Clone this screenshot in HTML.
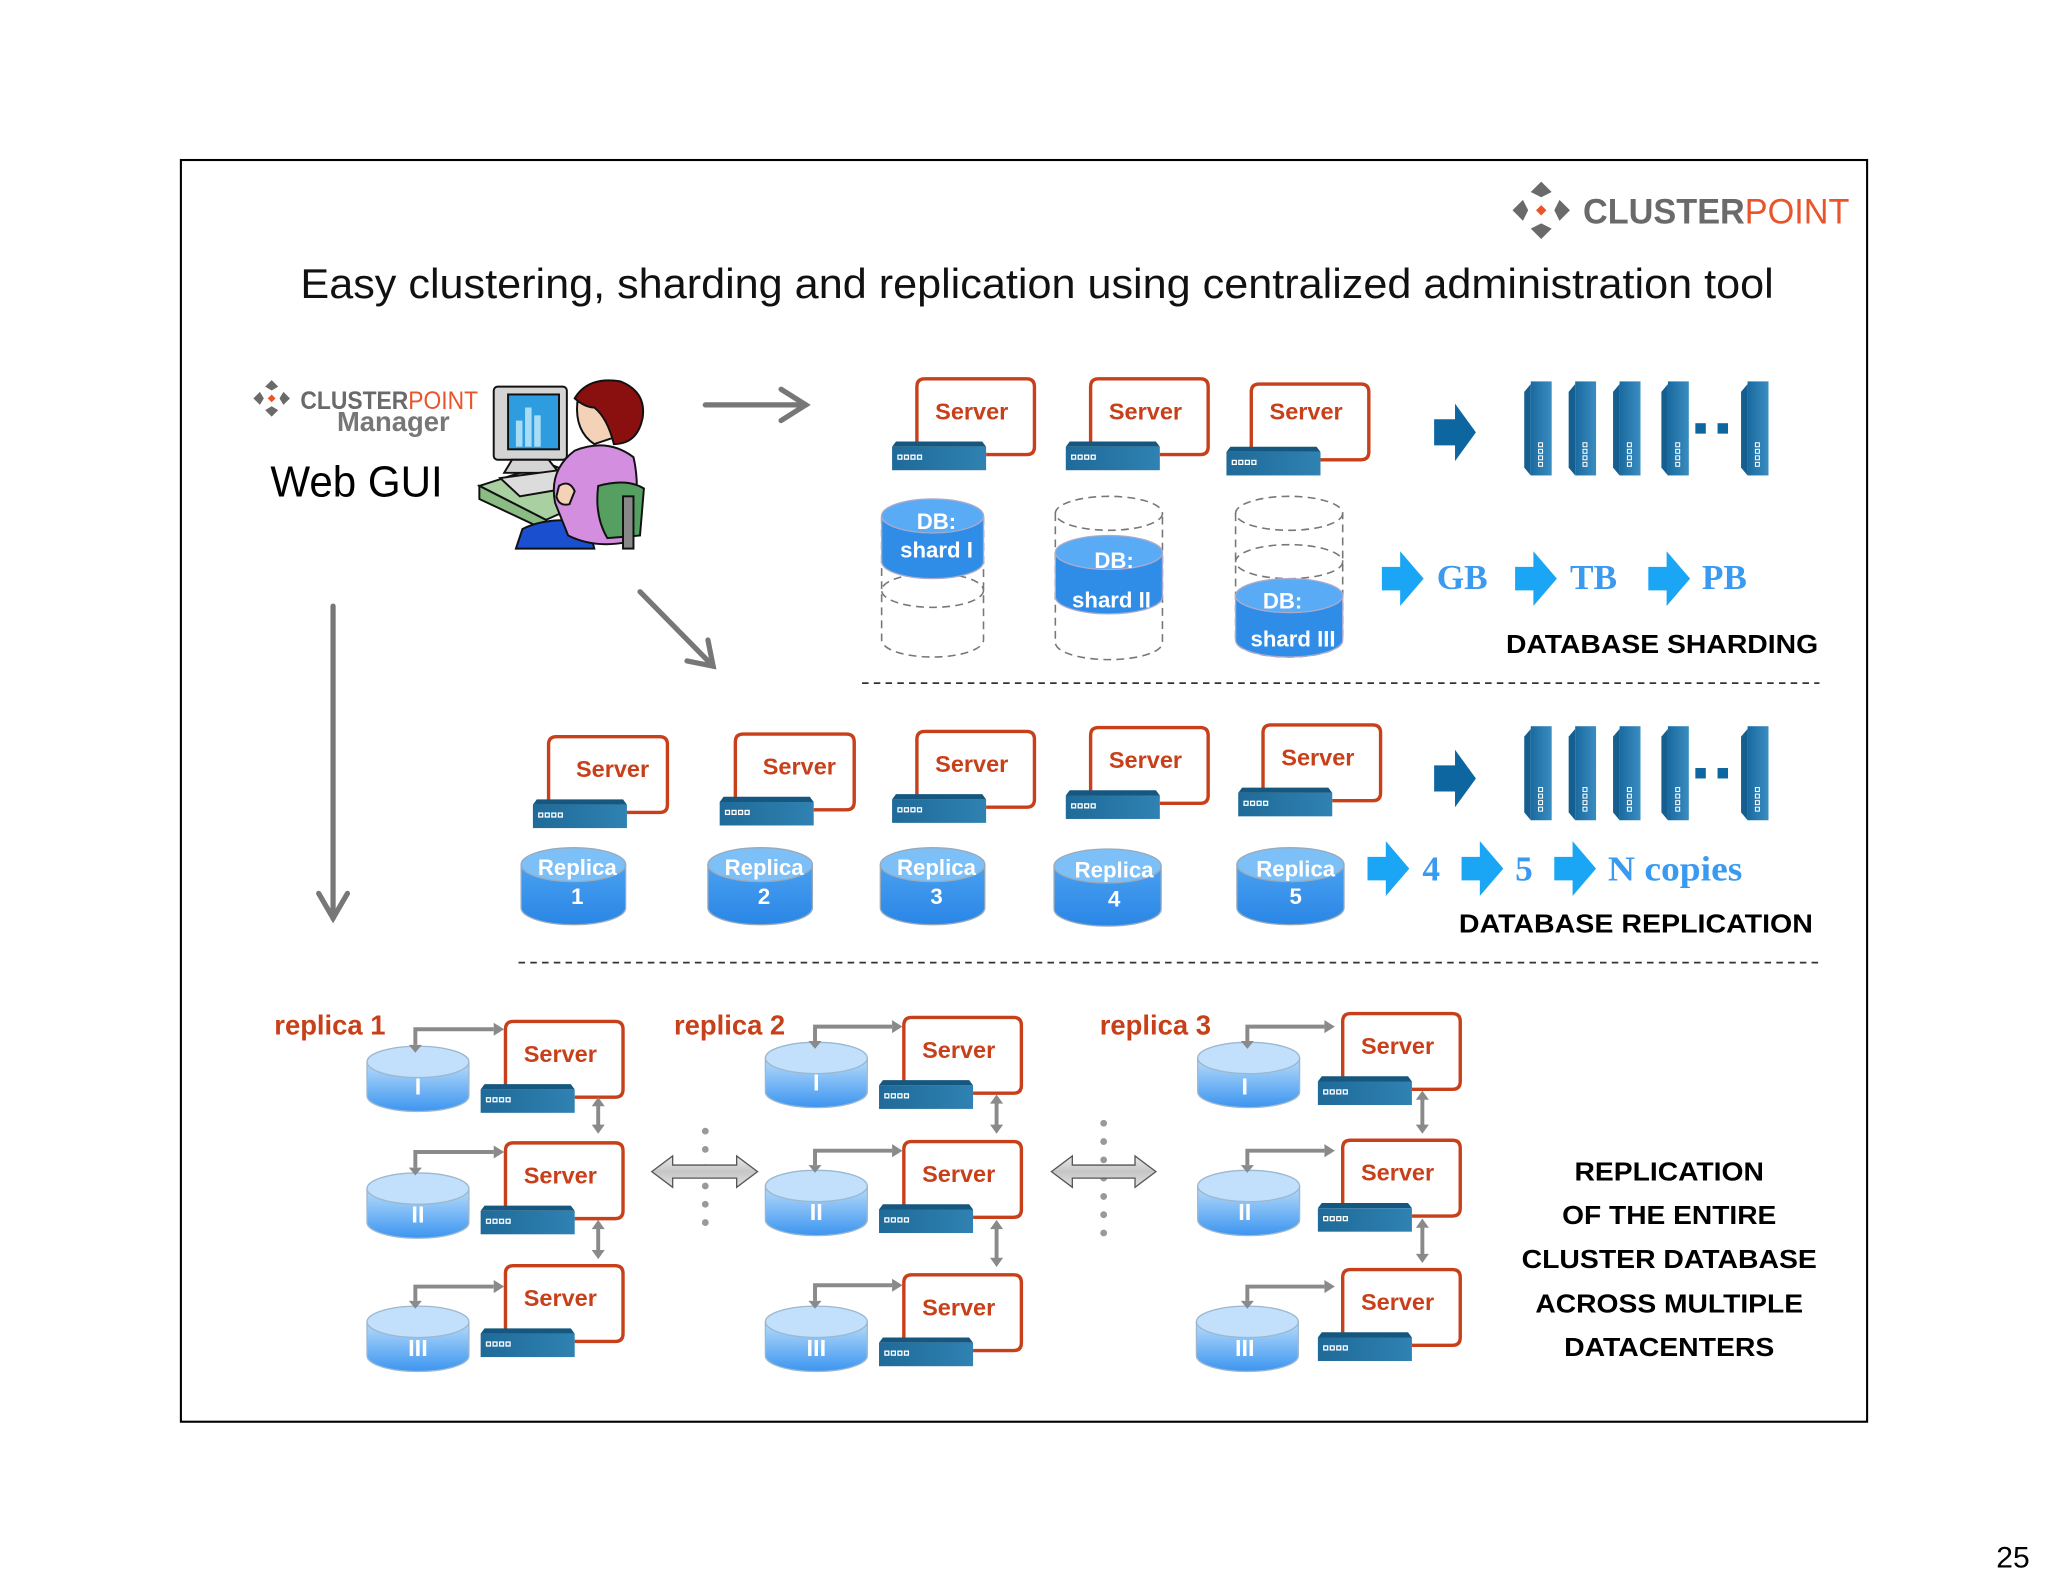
<!DOCTYPE html>
<html><head><meta charset="utf-8"><style>
html,body{margin:0;padding:0;background:#fff}
svg{display:block}
text{font-family:"Liberation Sans",Arial,sans-serif}
</style></head><body>
<svg width="2048" height="1582" viewBox="0 0 1568 1211.2" xmlns="http://www.w3.org/2000/svg">
<defs>
<linearGradient id="unitg" x1="0" y1="0" x2="1" y2="0"><stop offset="0" stop-color="#1f6a98"/><stop offset="1" stop-color="#2f82b2"/></linearGradient>
<linearGradient id="rackg" x1="0" y1="0" x2="1" y2="0"><stop offset="0" stop-color="#1a6aa0"/><stop offset="1" stop-color="#3a8dc0"/></linearGradient>
<linearGradient id="lcyl" x1="0" y1="0" x2="0" y2="1"><stop offset="0" stop-color="#b8dcfa"/><stop offset="1" stop-color="#3c95f0"/></linearGradient>
<linearGradient id="rcyl" x1="0" y1="0" x2="0" y2="1"><stop offset="0" stop-color="#4aa0f0"/><stop offset="1" stop-color="#2a86e6"/></linearGradient>
<linearGradient id="dbl" x1="0" y1="0" x2="0" y2="1"><stop offset="0" stop-color="#e8e8e8"/><stop offset=".5" stop-color="#c6c6c6"/><stop offset="1" stop-color="#e0e0e0"/></linearGradient>
<g id="srv">
<path d="M -42 27 L -42 -18 Q -42 -24 -36 -24 L 42 -24 Q 48 -24 48 -18 L 48 28 Q 48 34 42 34 L 11 34" fill="none" stroke="#c8401a" stroke-width="2.6"/>
<polygon points="-58,24 8,24 11,28 -61,28" fill="#16577f"/>
<rect x="-61" y="28" width="72" height="18" fill="url(#unitg)"/>
<g fill="none" stroke="#fff" stroke-width="1"><rect x="-56.5" y="34.5" width="3" height="3"/><rect x="-51.5" y="34.5" width="3" height="3"/><rect x="-46.5" y="34.5" width="3" height="3"/><rect x="-41.5" y="34.5" width="3" height="3"/></g>
</g>
<g id="srv2">
<path d="M -49 27 L -49 -18 Q -49 -24 -43 -24 L 36 -24 Q 42 -24 42 -18 L 42 28 Q 42 34 36 34 L 11 34" fill="none" stroke="#c8401a" stroke-width="2.6"/>
<polygon points="-58,24 8,24 11,28 -61,28" fill="#16577f"/>
<rect x="-61" y="28" width="72" height="18" fill="url(#unitg)"/>
<g fill="none" stroke="#fff" stroke-width="1"><rect x="-56.5" y="34.5" width="3" height="3"/><rect x="-51.5" y="34.5" width="3" height="3"/><rect x="-46.5" y="34.5" width="3" height="3"/><rect x="-41.5" y="34.5" width="3" height="3"/></g>
</g>
<g id="rack">
<polygon points="0,8 5,2 5,72 0,66" fill="#145f90"/>
<rect x="5" y="0" width="16" height="72" fill="url(#rackg)"/>
<g fill="none" stroke="#fff" stroke-width="0.8"><rect x="11" y="47" width="3" height="3"/><rect x="11" y="52" width="3" height="3"/><rect x="11" y="57" width="3" height="3"/><rect x="11" y="62" width="3" height="3"/></g>
</g>
<polygon id="barr" points="0,-9 14,-9 14,-21 32,0 14,21 14,9 0,9" fill="#1aa6f5"/>
<polygon id="darr" points="0,-10 16,-10 16,-22 32,0 16,22 16,10 0,10" fill="#0d66a0"/>
<g id="lc">
<path d="M -39 0 L -39 26 A 39 12 0 0 0 39 26 L 39 0 Z" fill="url(#lcyl)" stroke="#9bb8d0" stroke-width="1"/>
<ellipse cx="0" cy="0" rx="39" ry="12" fill="#c2e0fb" stroke="#9bb8d0" stroke-width="1"/>
</g>
</defs>

<rect x="138.5" y="122.5" width="1291" height="966" fill="none" stroke="#000" stroke-width="1.6"/>

<g transform="translate(1180,161)">
<polygon points="0,-22 8,-14 0,-10 -8,-14" fill="#6a6a6a"/>
<polygon points="0,22 8,14 0,10 -8,14" fill="#6a6a6a"/>
<polygon points="-22,0 -14,-8 -10,0 -14,8" fill="#6a6a6a"/>
<polygon points="22,0 14,-8 10,0 14,8" fill="#6a6a6a"/>
<polygon points="0,-4 4,0 0,4 -4,0" fill="#e8552a"/>
</g>
<text x="1212" y="171" font-size="27" font-weight="bold" fill="#6a6a6a" textLength="204" lengthAdjust="spacingAndGlyphs">CLUSTER<tspan fill="#e8552a" font-weight="normal">POINT</tspan></text>

<text x="230" y="228" font-size="32" fill="#111" textLength="1128" lengthAdjust="spacingAndGlyphs">Easy clustering, sharding and replication using centralized administration tool</text>

<g transform="translate(208,305)">
<polygon points="0,-14 5,-9 0,-6 -5,-9" fill="#6a6a6a"/>
<polygon points="0,14 5,9 0,6 -5,9" fill="#6a6a6a"/>
<polygon points="-14,0 -9,-5 -6,0 -9,5" fill="#6a6a6a"/>
<polygon points="14,0 9,-5 6,0 9,5" fill="#6a6a6a"/>
<polygon points="0,-3 3,0 0,3 -3,0" fill="#e8552a"/>
</g>
<text x="230" y="313" font-size="19" font-weight="bold" fill="#6a6a6a" textLength="136" lengthAdjust="spacingAndGlyphs">CLUSTER<tspan fill="#e8552a" font-weight="normal">POINT</tspan></text>
<text x="258" y="330" font-size="21" font-weight="bold" fill="#777">Manager</text>
<text x="207" y="380" font-size="33" fill="#000" textLength="132" lengthAdjust="spacingAndGlyphs">Web GUI</text>

<g stroke="#111" stroke-width="1.5">
<polygon points="367,372 420,355 470,375 418,398" fill="#a8d0a0"/>
<polygon points="367,372 418,398 418,406 367,382" fill="#8abc84"/>
<rect x="378" y="296" width="56" height="56" rx="3" fill="#d4d4d4"/>
<rect x="389" y="302" width="39" height="42" fill="#2e9de0"/>
<rect x="395" y="322" width="5" height="20" fill="#a8dcf5" stroke="none"/>
<rect x="402" y="312" width="5" height="30" fill="#a8dcf5" stroke="none"/>
<rect x="409" y="318" width="5" height="24" fill="#a8dcf5" stroke="none"/>
<polygon points="392,352 420,352 428,362 386,362" fill="#d4d4d4"/>
<polygon points="383,366 428,360 445,372 398,380" fill="#dcdcdc"/>
<path d="M 450 400 Q 420 395 400 405 L 395 420 L 455 420 Z" fill="#1a4fd0"/>
<path d="M 440 345 Q 420 360 425 385 L 435 410 Q 455 420 480 415 Q 492 380 485 350 Q 465 335 440 345 Z" fill="#d48ee0"/>
<path d="M 442 308 Q 440 330 455 340 L 470 335 Q 470 315 460 305 Z" fill="#f3d2b8"/>
<path d="M 440 305 Q 450 288 475 292 Q 495 300 492 320 Q 488 340 470 340 Q 465 320 455 312 Q 448 312 440 305 Z" fill="#8a1010"/>
<path d="M 458 372 Q 480 366 493 374 L 490 410 L 465 412 Q 455 395 458 372 Z" fill="#55a060"/>
<rect x="477" y="380" width="8" height="40" fill="#888"/>
<path d="M 428 372 q 8 -5 12 4 l -4 10 q -8 2 -10 -6 z" fill="#f3d2b8"/>
</g>

<g stroke="#777" stroke-width="4" fill="none" stroke-linecap="round">
<line x1="540" y1="310" x2="617" y2="310"/><polyline points="598,298 617,310 598,322"/>
<line x1="490" y1="453" x2="546" y2="510"/><polyline points="526,506 546,510 542,490"/>
<line x1="255" y1="464" x2="255" y2="703"/><polyline points="244,684 255,703 266,684"/>
</g>

<use href="#srv" x="744" y="314"/><text x="744" y="321" font-size="18" font-weight="bold" fill="#c8401a" text-anchor="middle">Server</text>
<use href="#srv" x="877" y="314"/><text x="877" y="321" font-size="18" font-weight="bold" fill="#c8401a" text-anchor="middle">Server</text>
<use href="#srv" x="1000" y="318"/><text x="1000" y="321" font-size="18" font-weight="bold" fill="#c8401a" text-anchor="middle">Server</text>

<g fill="none" stroke="#777" stroke-width="1.2" stroke-dasharray="6,4">
<path d="M 675 395 L 675 490 A 39 13 0 0 0 753 490 L 753 395"/>
<ellipse cx="714" cy="452" rx="39" ry="13"/>
<path d="M 808 393 L 808 492 A 41 13 0 0 0 890 492 L 890 393"/>
<ellipse cx="849" cy="393" rx="41" ry="13"/>
<path d="M 946 393 L 946 490 A 41 13 0 0 0 1028 490 L 1028 393"/>
<ellipse cx="987" cy="393" rx="41" ry="13"/>
<ellipse cx="987" cy="430" rx="41" ry="13"/>
</g>
<g stroke="#aac" stroke-width="1">
<path d="M 675 395 L 675 430 A 39 13 0 0 0 753 430 L 753 395 Z" fill="#2f8de8"/>
<ellipse cx="714" cy="395" rx="39" ry="13" fill="#5aabf5"/>
<path d="M 808 423 L 808 457 A 41 13 0 0 0 890 457 L 890 423 Z" fill="#2f8de8"/>
<ellipse cx="849" cy="423" rx="41" ry="13" fill="#5aabf5"/>
<path d="M 946 456 L 946 490 A 41 13 0 0 0 1028 490 L 1028 456 Z" fill="#2f8de8"/>
<ellipse cx="987" cy="456" rx="41" ry="13" fill="#5aabf5"/>
</g>
<g font-size="17" font-weight="bold" fill="#fff" text-anchor="middle">
<text x="717" y="405">DB:</text><text x="717" y="427">shard I</text>
<text x="853" y="435">DB:</text><text x="851" y="465">shard II</text>
<text x="982" y="466">DB:</text><text x="990" y="495">shard III</text>
</g>

<use href="#darr" x="1098" y="331"/>
<use href="#rack" x="1167" y="292"/><use href="#rack" x="1201" y="292"/><use href="#rack" x="1235" y="292"/><use href="#rack" x="1272" y="292"/><use href="#rack" x="1333" y="292"/>
<rect x="1298" y="324" width="8" height="8" fill="#0d66a0"/><rect x="1315" y="324" width="8" height="8" fill="#0d66a0"/>

<use href="#barr" x="1058" y="443"/><use href="#barr" x="1160" y="443"/><use href="#barr" x="1262" y="443"/>
<g font-size="27" font-weight="bold" fill="#3a9af0">
<text x="1100" y="451" style="font-family:'Liberation Serif',serif">GB</text>
<text x="1202" y="451" style="font-family:'Liberation Serif',serif">TB</text>
<text x="1303" y="451" style="font-family:'Liberation Serif',serif">PB</text>
</g>
<text x="1153" y="500" font-size="20" font-weight="bold" fill="#000" textLength="239" lengthAdjust="spacingAndGlyphs">DATABASE SHARDING</text>

<line x1="660" y1="523" x2="1393" y2="523" stroke="#333" stroke-width="1.3" stroke-dasharray="5,4"/>

<use href="#srv2" x="469" y="588"/><text x="469" y="595" font-size="18" font-weight="bold" fill="#c8401a" text-anchor="middle">Server</text>
<use href="#srv2" x="612" y="586"/><text x="612" y="593" font-size="18" font-weight="bold" fill="#c8401a" text-anchor="middle">Server</text>
<use href="#srv" x="744" y="584"/><text x="744" y="591" font-size="18" font-weight="bold" fill="#c8401a" text-anchor="middle">Server</text>
<use href="#srv" x="877" y="581"/><text x="877" y="588" font-size="18" font-weight="bold" fill="#c8401a" text-anchor="middle">Server</text>
<use href="#srv" x="1009" y="579"/><text x="1009" y="586" font-size="18" font-weight="bold" fill="#c8401a" text-anchor="middle">Server</text>

<g stroke="#9ab" stroke-width="1">
<path d="M 399 662 L 399 695 A 40 13 0 0 0 479 695 L 479 662 Z" fill="url(#rcyl)"/><ellipse cx="439" cy="662" rx="40" ry="13" fill="#7dc0f7"/>
<path d="M 542 662 L 542 695 A 40 13 0 0 0 622 695 L 622 662 Z" fill="url(#rcyl)"/><ellipse cx="582" cy="662" rx="40" ry="13" fill="#7dc0f7"/>
<path d="M 674 662 L 674 695 A 40 13 0 0 0 754 695 L 754 662 Z" fill="url(#rcyl)"/><ellipse cx="714" cy="662" rx="40" ry="13" fill="#7dc0f7"/>
<path d="M 807 663 L 807 696 A 41 13 0 0 0 889 696 L 889 663 Z" fill="url(#rcyl)"/><ellipse cx="848" cy="663" rx="41" ry="13" fill="#7dc0f7"/>
<path d="M 947 662 L 947 695 A 41 13 0 0 0 1029 695 L 1029 662 Z" fill="url(#rcyl)"/><ellipse cx="988" cy="662" rx="41" ry="13" fill="#7dc0f7"/>
</g>
<g font-size="17" font-weight="bold" fill="#fff" text-anchor="middle">
<text x="442" y="670">Replica</text><text x="442" y="692">1</text>
<text x="585" y="670">Replica</text><text x="585" y="692">2</text>
<text x="717" y="670">Replica</text><text x="717" y="692">3</text>
<text x="853" y="672">Replica</text><text x="853" y="694">4</text>
<text x="992" y="671">Replica</text><text x="992" y="692">5</text>
</g>

<use href="#darr" x="1098" y="596"/>
<use href="#rack" x="1167" y="556"/><use href="#rack" x="1201" y="556"/><use href="#rack" x="1235" y="556"/><use href="#rack" x="1272" y="556"/><use href="#rack" x="1333" y="556"/>
<rect x="1298" y="588" width="8" height="8" fill="#0d66a0"/><rect x="1315" y="588" width="8" height="8" fill="#0d66a0"/>

<use href="#barr" x="1047" y="665"/><use href="#barr" x="1119" y="665"/><use href="#barr" x="1190" y="665"/>
<g font-size="27" font-weight="bold" fill="#3a9af0">
<text x="1089" y="674" style="font-family:'Liberation Serif',serif">4</text>
<text x="1160" y="674" style="font-family:'Liberation Serif',serif">5</text>
<text x="1231" y="674" style="font-family:'Liberation Serif',serif" textLength="103" lengthAdjust="spacingAndGlyphs">N copies</text>
</g>
<text x="1117" y="714" font-size="20" font-weight="bold" fill="#000" textLength="271" lengthAdjust="spacingAndGlyphs">DATABASE REPLICATION</text>

<line x1="397" y1="737" x2="1393" y2="737" stroke="#333" stroke-width="1.3" stroke-dasharray="5,4"/>

<g font-size="21" font-weight="bold" fill="#c8401a">
<text x="210" y="792">replica 1</text>
<text x="516" y="792">replica 2</text>
<text x="842" y="792">replica 3</text>
</g>

<g>
<use href="#lc" x="320" y="813"/><use href="#lc" x="320" y="910"/><use href="#lc" x="320" y="1012"/>
<use href="#srv" x="429" y="806"/><use href="#srv" x="429" y="899"/><use href="#srv" x="429" y="993"/>
<use href="#lc" x="625" y="810"/><use href="#lc" x="625" y="908"/><use href="#lc" x="625" y="1012"/>
<use href="#srv" x="734" y="803"/><use href="#srv" x="734" y="898"/><use href="#srv" x="734" y="1000"/>
<use href="#lc" x="956" y="810"/><use href="#lc" x="956" y="908"/><use href="#lc" x="955" y="1012"/>
<use href="#srv" x="1070" y="800"/><use href="#srv" x="1070" y="897"/><use href="#srv" x="1070" y="996"/>
</g>
<g font-size="18" font-weight="bold" fill="#c8401a" text-anchor="middle">
<text x="429" y="813">Server</text><text x="429" y="906">Server</text><text x="429" y="1000">Server</text>
<text x="734" y="810">Server</text><text x="734" y="905">Server</text><text x="734" y="1007">Server</text>
<text x="1070" y="807">Server</text><text x="1070" y="904">Server</text><text x="1070" y="1003">Server</text>
</g>
<g font-size="18" font-weight="bold" fill="#fff" text-anchor="middle">
<text x="320" y="838">I</text><text x="320" y="936">II</text><text x="320" y="1038">III</text>
<text x="625" y="835">I</text><text x="625" y="934">II</text><text x="625" y="1038">III</text>
<text x="953" y="838">I</text><text x="953" y="934">II</text><text x="953" y="1038">III</text>
</g>

<g fill="none" stroke="#8a8a8a" stroke-width="3">
<path d="M 318 800 L 318 788 L 378 788"/><path d="M 318 894 L 318 882 L 378 882"/><path d="M 318 996 L 318 985 L 378 985"/>
<path d="M 624 797 L 624 786 L 683 786"/><path d="M 624 892 L 624 881 L 683 881"/><path d="M 624 996 L 624 984 L 683 984"/>
<path d="M 955 797 L 955 786 L 1014 786"/><path d="M 955 892 L 955 881 L 1014 881"/><path d="M 955 996 L 955 985 L 1014 985"/>
<line x1="458" y1="846" x2="458" y2="862"/><line x1="458" y1="940" x2="458" y2="958"/>
<line x1="763" y1="844" x2="763" y2="862"/><line x1="763" y1="940" x2="763" y2="964"/>
<line x1="1089" y1="841" x2="1089" y2="862"/><line x1="1089" y1="939" x2="1089" y2="961"/>
</g>
<g fill="#8a8a8a">
<polygon points="378,783 386,788 378,793"/><polygon points="378,877 386,882 378,887"/><polygon points="378,980 386,985 378,990"/>
<polygon points="313,800 318,806 323,800"/><polygon points="313,894 318,900 323,894"/><polygon points="313,996 318,1002 323,996"/>
<polygon points="683,781 691,786 683,791"/><polygon points="683,876 691,881 683,886"/><polygon points="683,979 691,984 683,989"/>
<polygon points="619,797 624,803 629,797"/><polygon points="619,892 624,898 629,892"/><polygon points="619,996 624,1002 629,996"/>
<polygon points="1014,781 1022,786 1014,791"/><polygon points="1014,876 1022,881 1014,886"/><polygon points="1014,980 1022,985 1014,990"/>
<polygon points="950,797 955,803 960,797"/><polygon points="950,892 955,898 960,892"/><polygon points="950,996 955,1002 960,996"/>
<polygon points="453,847 458,840 463,847"/><polygon points="453,861 458,868 463,861"/>
<polygon points="453,941 458,934 463,941"/><polygon points="453,957 458,964 463,957"/>
<polygon points="758,845 763,838 768,845"/><polygon points="758,861 763,868 768,861"/>
<polygon points="758,941 763,934 768,941"/><polygon points="758,963 763,970 768,963"/>
<polygon points="1084,842 1089,835 1094,842"/><polygon points="1084,861 1089,868 1094,861"/>
<polygon points="1084,940 1089,933 1094,940"/><polygon points="1084,960 1089,967 1094,960"/>
</g>

<g fill="#999">
<circle cx="540" cy="866" r="2.6"/><circle cx="540" cy="880" r="2.6"/><circle cx="540" cy="894" r="2.6"/><circle cx="540" cy="908" r="2.6"/><circle cx="540" cy="922" r="2.6"/><circle cx="540" cy="936" r="2.6"/>
<circle cx="845" cy="860" r="2.6"/><circle cx="845" cy="874" r="2.6"/><circle cx="845" cy="888" r="2.6"/><circle cx="845" cy="902" r="2.6"/><circle cx="845" cy="916" r="2.6"/><circle cx="845" cy="930" r="2.6"/><circle cx="845" cy="944" r="2.6"/>
</g>
<polygon points="499,897 515,885 515,892 564,892 564,885 580,897 564,909 564,902 515,902 515,909" fill="url(#dbl)" stroke="#555" stroke-width="1"/>
<polygon points="805,897 821,885 821,892 869,892 869,885 885,897 869,909 869,902 821,902 821,909" fill="url(#dbl)" stroke="#555" stroke-width="1"/>

<g font-size="20" font-weight="bold" fill="#000" text-anchor="middle">
<text x="1278" y="904" textLength="145" lengthAdjust="spacingAndGlyphs">REPLICATION</text>
<text x="1278" y="937" textLength="164" lengthAdjust="spacingAndGlyphs">OF THE ENTIRE</text>
<text x="1278" y="971" textLength="226" lengthAdjust="spacingAndGlyphs">CLUSTER DATABASE</text>
<text x="1278" y="1005" textLength="205" lengthAdjust="spacingAndGlyphs">ACROSS MULTIPLE</text>
<text x="1278" y="1038" textLength="161" lengthAdjust="spacingAndGlyphs">DATACENTERS</text>
</g>

<text x="1554" y="1200" font-size="23" fill="#000" text-anchor="end">25</text>
</svg>
</body></html>
